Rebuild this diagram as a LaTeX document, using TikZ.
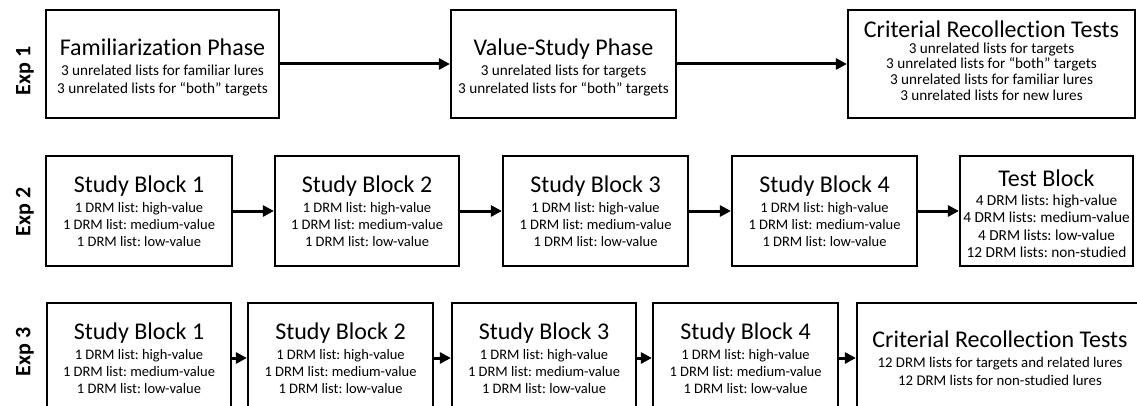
\documentclass[tikz,border=0pt]{standalone}
\usepackage{fontspec}
\setmainfont{Carlito}[Ligatures={TeX,NoCommon}]
\usetikzlibrary{arrows.meta}

% big first line of every box (optional strut to push the lines down)
\newcommand{\boxtitle}[2][0pt]{{\fontsize{24}{26}\selectfont\rule{0pt}{#1}#2}}
\frenchspacing

\begin{document}
\begin{tikzpicture}[x=1pt, y=-1pt,
    phasebox/.style={draw, line width=2.2pt, inner sep=0pt, align=center,
        font=\fontsize{14.5}{17}\selectfont},
    flowarrow/.style={line width=3pt, -{Triangle[length=11pt,width=11pt]}},
    explabel/.style={rotate=90, font=\bfseries\fontsize{22}{24}\selectfont}]

    \clip (0,0) rectangle (1137,406);

    % --- Exp 1 ---
    \node[explabel] (exp1) at (25,71) {Exp 1};
    \node[phasebox, minimum width=233pt, minimum height=108pt,
          font=\fontsize{15.2}{18}\selectfont] (fam) at (162.5,64)
        {\boxtitle[24pt]{Familiarization Phase}\\[2pt]3 unrelated lists for familiar lures\\3 unrelated lists for “both” targets};
    \node[phasebox, minimum width=225pt, minimum height=108pt,
          font=\fontsize{15.2}{18}\selectfont] (val) at (563.5,64)
        {\boxtitle[24pt]{Value-Study Phase}\\[2pt]3 unrelated lists for targets\\3 unrelated lists for “both” targets};
    \node[phasebox, minimum width=287pt, minimum height=108pt,
          font=\fontsize{15.2}{15.6}\selectfont] (crit1) at (991.5,64)
        {\boxtitle{Criterial Recollection Tests}\\3 unrelated lists for targets\\3 unrelated lists for “both” targets\\3 unrelated lists for familiar lures\\3 unrelated lists for new lures\rule[-7pt]{0pt}{7pt}};

    \draw[flowarrow] (fam) -- (val);
    \draw[flowarrow] (val) -- (crit1);

    % --- Exp 2 ---
    \node[explabel] (exp2) at (25,212) {Exp 2};
    \node[phasebox, minimum width=186pt, minimum height=110pt] (sbA) at (139,211)
        {\boxtitle{Study Block 1}\\[3pt]1 DRM list: high-value\\1 DRM list: medium-value\\1 DRM list: low-value};
    \node[phasebox, minimum width=184pt, minimum height=110pt] (sbB) at (367,211)
        {\boxtitle{Study Block 2}\\[3pt]1 DRM list: high-value\\1 DRM list: medium-value\\1 DRM list: low-value};
    \node[phasebox, minimum width=185pt, minimum height=110pt] (sbC) at (595.5,211)
        {\boxtitle{Study Block 3}\\[3pt]1 DRM list: high-value\\1 DRM list: medium-value\\1 DRM list: low-value};
    \node[phasebox, minimum width=185pt, minimum height=110pt] (sbD) at (824.5,211)
        {\boxtitle{Study Block 4}\\[3pt]1 DRM list: high-value\\1 DRM list: medium-value\\1 DRM list: low-value};
    \node[phasebox, minimum width=173pt, minimum height=110pt,
          font=\fontsize{15.3}{17.3}\selectfont] (test) at (1046.5,211)
        {\boxtitle[22pt]{Test Block}\\[2pt]4 DRM lists: high-value\\4 DRM lists: medium-value\\4 DRM lists: low-value\\12 DRM lists: non-studied};

    \draw[flowarrow] (sbA) -- (sbB);
    \draw[flowarrow] (sbB) -- (sbC);
    \draw[flowarrow] (sbC) -- (sbD);
    \draw[flowarrow] (sbD) -- (test);

    % --- Exp 3 (cut off at the bottom) ---
    \node[explabel] (exp3) at (25,352) {Exp 3};
    \node[phasebox, minimum width=184pt, minimum height=110pt] (tbA) at (139,358)
        {\boxtitle{Study Block 1}\\[3pt]1 DRM list: high-value\\1 DRM list: medium-value\\1 DRM list: low-value};
    \node[phasebox, minimum width=185pt, minimum height=110pt] (tbB) at (340.5,358)
        {\boxtitle{Study Block 2}\\[3pt]1 DRM list: high-value\\1 DRM list: medium-value\\1 DRM list: low-value};
    \node[phasebox, minimum width=184pt, minimum height=110pt] (tbC) at (544,358)
        {\boxtitle{Study Block 3}\\[3pt]1 DRM list: high-value\\1 DRM list: medium-value\\1 DRM list: low-value};
    \node[phasebox, minimum width=185pt, minimum height=110pt] (tbD) at (745.5,358)
        {\boxtitle{Study Block 4}\\[3pt]1 DRM list: high-value\\1 DRM list: medium-value\\1 DRM list: low-value};
    \node[phasebox, minimum width=286pt, minimum height=110pt,
          font=\fontsize{14.8}{18}\selectfont] (crit3) at (1000,358)
        {\boxtitle{Criterial Recollection Tests}\\[2pt]12 DRM lists for targets and related lures\\12 DRM lists for non-studied lures};

    \draw[flowarrow] (tbA) -- (tbB);
    \draw[flowarrow] (tbB) -- (tbC);
    \draw[flowarrow] (tbC) -- (tbD);
    \draw[flowarrow] (tbD) -- (crit3);

\end{tikzpicture}
\end{document}
